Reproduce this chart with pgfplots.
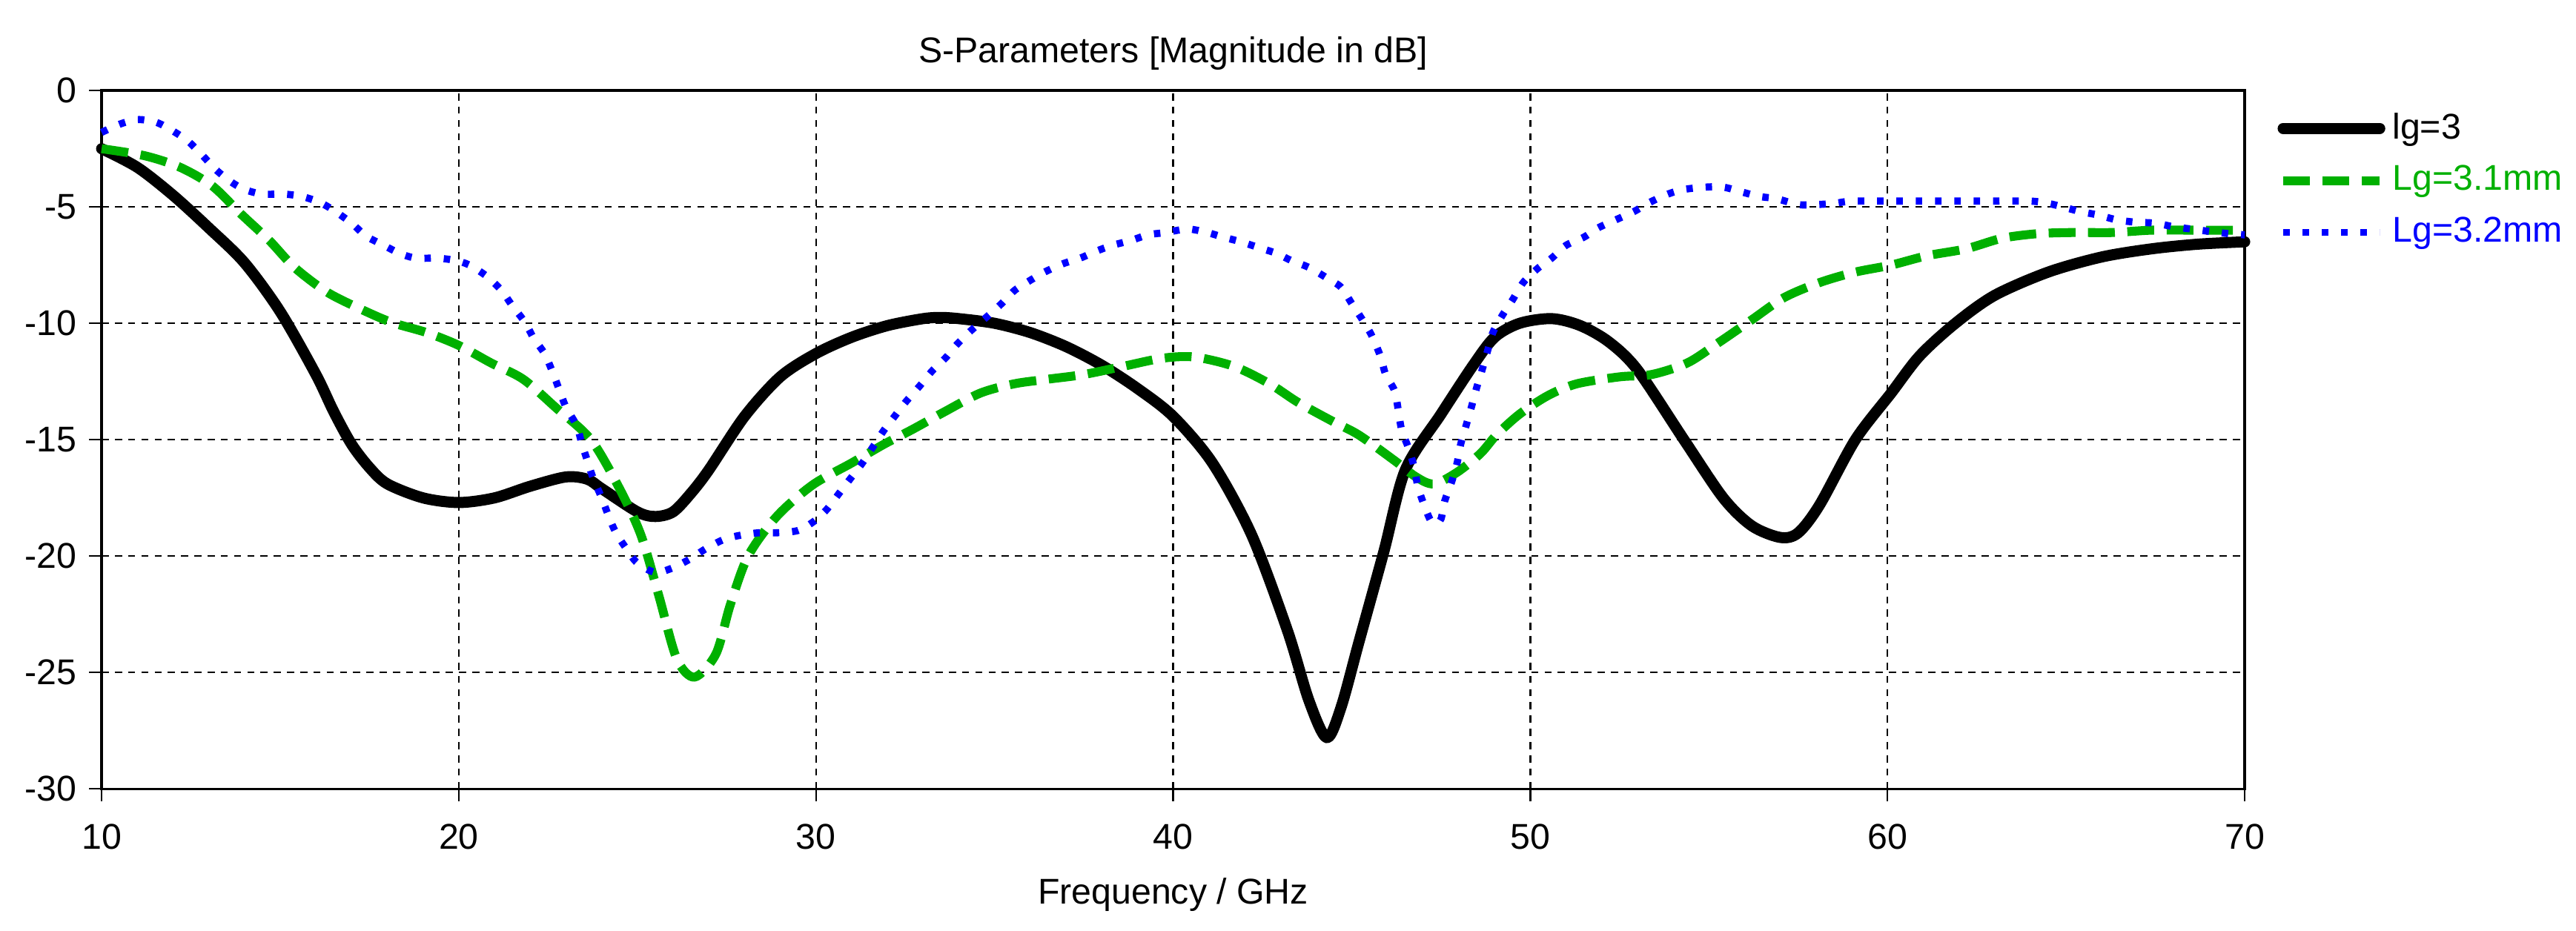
\documentclass[border=0pt]{standalone}
\usepackage{pgfplots}
\pgfplotsset{compat=1.18}
\usepackage{fontspec}
\setmainfont{Liberation Sans}
\definecolor{cstgreen}{RGB}{0,176,0}
\definecolor{cstblue}{RGB}{0,0,255}

\begin{document}
\begin{tikzpicture}
\path[use as bounding box] (-28.4pt,-39.6pt) rectangle (691.6pt,220.5pt);
\begin{axis}[
  scale only axis,
  width=599pt, height=195.2pt,
  xmin=10, xmax=70, ymin=-30, ymax=0,
  xtick={10,20,...,70},
  ytick={-30,-25,...,0},
  font=\fontsize{10}{12}\selectfont,
  /pgf/number format/assume math mode=true,
  tick align=outside,
  tick pos=left,
  major tick length=3.5pt,
  tick style={black, line width=0.5pt},
  axis line style={black, line width=0.7pt},
  grid=major,
  major grid style={black, line width=0.5pt, dash pattern=on 2pt off 1.7pt},
  title={S-Parameters [Magnitude in dB]},
  title style={yshift=-3.8pt},
  xticklabel style={yshift=-2.8pt},
  xlabel={Frequency / GHz},
  xlabel style={yshift=-1.2pt},
  clip=false,
  legend style={at={(1,1)}, anchor=north west, draw=none, fill=none,
    xshift=6pt, yshift=-2pt, row sep=2pt,
    font=\fontsize{10}{12}\selectfont},
  legend cell align=left,
  legend image code/.code={\draw[#1] (0pt,0pt) -- (27pt,0pt);},
]
\addplot[black, line width=3.1pt, line cap=round, line join=round, smooth] coordinates {
(10,-2.5) (11,-3.3) (12,-4.5) (13,-5.9) (14,-7.4) (15,-9.5)
(16,-12.2) (16.5,-13.8) (17,-15.2) (17.5,-16.2) (18,-16.9) (19,-17.5)
(20.0,-17.7) (21.0,-17.5) (22.0,-17.0)
(23.0,-16.6) (23.6,-16.7) (24.0,-17.1) (25.0,-18.1) (25.5,-18.3) (26.0,-18.1)
(26.5,-17.3) (27.0,-16.3) (28.0,-14.0) (29.0,-12.3) (30.0,-11.3) (31.0,-10.6)
(32.0,-10.1) (33.0,-9.8) (33.5,-9.75) (34.0,-9.8) (35.0,-10.0) (36.0,-10.4)
(37.0,-11.0) (38.0,-11.8) (39.0,-12.8) (40.0,-14.0) (41.1,-16.0) (42.2,-19.1)
(43.2,-23.2) (43.8,-26.2) (44.3,-27.8) (44.7,-26.5) (45.2,-23.7) (45.9,-19.8)
(46.5,-16.3) (47.5,-13.9) (48.4,-11.8) (49.0,-10.6) (49.7,-10.0) (50.6,-9.8)
(51.4,-10.1) (52.2,-10.8) (53.0,-12.0) (54.3,-15.0) (55.4,-17.5) (56.2,-18.7)
(57.0,-19.2) (57.5,-19.0) (58.1,-17.8) (59.1,-15.0) (60.1,-13.0) (60.9,-11.4)
(61.9,-10.0) (63.0,-8.8) (64.5,-7.8) (66.0,-7.15) (67.4,-6.8) (68.7,-6.6)
(70.0,-6.5)
};
\addlegendentry{lg=3}
\addplot[cstgreen, line width=2.5pt, dash pattern=on 7.5pt off 3.5pt, line join=round, smooth] coordinates {
(10,-2.5) (11.2,-2.8) (12.2,-3.3) (13.1,-4.1) (13.9,-5.3) (14.7,-6.45)
(15.4,-7.6) (16.3,-8.65) (17.2,-9.35) (18.1,-9.95) (19.1,-10.4) (20.0,-10.95)
(20.9,-11.7) (21.8,-12.4) (22.7,-13.6) (23.7,-15.0) (24.5,-17.1) (25.1,-19.1)
(25.6,-21.7) (26.1,-24.4) (26.6,-25.2) (27.2,-24.2) (27.6,-22.1) (28.1,-20.0)
(28.9,-18.3) (29.9,-16.95) (31.0,-16.0) (31.9,-15.2) (32.7,-14.56) (33.6,-13.8)
(34.6,-13.0) (35.55,-12.6) (36.5,-12.4) (37.5,-12.2) (38.6,-11.85) (39.7,-11.5)
(40.6,-11.45) (41.7,-11.85) (42.7,-12.6) (43.5,-13.4) (44.45,-14.2) (45.2,-14.8)
(46.2,-15.9) (46.8,-16.6) (47.3,-16.9) (47.95,-16.4) (48.6,-15.6) (49.05,-14.8)
(49.7,-13.9) (50.5,-13.1) (51.3,-12.6) (52.5,-12.3) (53.4,-12.2) (54.4,-11.7)
(55.3,-10.8) (56.2,-9.85) (57.1,-8.9) (58.1,-8.25) (59.1,-7.8) (60.1,-7.5)
(61.1,-7.1) (62.2,-6.8) (63.2,-6.35) (64.2,-6.15) (65.2,-6.1) (66.3,-6.1)
(67.4,-6.0) (68.6,-6.0) (70.0,-6.0)
};
\addlegendentry{\textcolor{cstgreen}{Lg=3.1mm}}
\addplot[cstblue, line width=2pt, dash pattern=on 1.8pt off 3.6pt, line join=round, smooth] coordinates {
(10,-1.8) (10.5,-1.45) (11.0,-1.25) (11.5,-1.35) (11.9,-1.65) (12.4,-2.15)
(12.8,-2.75) (13.2,-3.4) (13.6,-3.9) (14.0,-4.25) (14.5,-4.45) (15.1,-4.45)
(15.6,-4.55) (16.1,-4.8) (16.5,-5.15) (17.0,-5.7) (17.4,-6.25) (17.9,-6.65)
(18.35,-7.0) (18.8,-7.2) (19.4,-7.2) (19.9,-7.3) (20.3,-7.5) (20.8,-8.0)
(21.2,-8.6) (21.5,-9.25) (21.85,-9.95) (22.1,-10.65) (22.4,-11.3) (22.6,-12.0)
(22.8,-12.8) (23.0,-13.6) (23.3,-14.4) (23.45,-15.2) (23.6,-15.9) (23.75,-16.6)
(24.0,-17.5) (24.2,-18.3) (24.4,-19.0) (24.7,-19.7) (25.0,-20.3) (25.5,-20.7)
(26.0,-20.5) (26.5,-20.1) (26.9,-19.7) (27.4,-19.3) (27.9,-19.1) (28.4,-19.0)
(28.9,-19.0) (29.5,-18.9) (29.95,-18.5) (30.3,-18.0) (30.65,-17.3) (31.0,-16.6)
(31.3,-16.0) (31.6,-15.3) (31.9,-14.6) (32.2,-14.0) (32.5,-13.4) (32.9,-12.7)
(33.25,-12.05) (33.65,-11.45) (33.95,-10.9) (34.35,-10.3) (34.8,-9.7) (35.2,-9.15)
(35.55,-8.6) (35.95,-8.2) (36.4,-7.8) (36.9,-7.45) (37.4,-7.2) (37.85,-6.9)
(38.3,-6.65) (38.8,-6.45) (39.3,-6.2) (39.8,-6.1) (40.4,-5.95) (40.95,-6.1)
(41.4,-6.3) (41.9,-6.5) (42.4,-6.75) (42.9,-7.0) (43.3,-7.3) (43.8,-7.6)
(44.3,-8.05) (44.7,-8.45) (45.0,-9.15) (45.3,-9.85) (45.55,-10.5) (45.8,-11.4)
(45.95,-12.2) (46.2,-12.9) (46.3,-13.7) (46.4,-14.6) (46.6,-15.4) (46.75,-16.2)
(46.85,-17.0) (47.0,-17.7) (47.2,-18.45) (47.35,-18.6) (47.5,-18.4) (47.6,-17.65)
(47.8,-16.8) (47.95,-16.0) (48.05,-15.2) (48.2,-14.4) (48.35,-13.6) (48.5,-12.75)
(48.65,-12.0) (48.8,-11.2) (48.95,-10.4) (49.2,-9.7) (49.5,-9.0) (49.8,-8.25)
(50.2,-7.65) (50.6,-7.2) (51.0,-6.65) (51.5,-6.3) (51.9,-5.9) (52.4,-5.55)
(52.9,-5.2) (53.35,-4.8) (53.85,-4.45) (54.3,-4.25) (54.9,-4.15) (55.4,-4.15)
(55.9,-4.35) (56.4,-4.55) (56.9,-4.65) (57.5,-4.9) (58.0,-4.9) (58.5,-4.85)
(59.0,-4.75) (60,-4.75) (61,-4.75) (62,-4.75) (63,-4.75) (64.0,-4.75)
(64.5,-4.85) (64.9,-5.0) (65.4,-5.2) (65.9,-5.35) (66.4,-5.55) (66.9,-5.65)
(67.5,-5.7) (68.0,-5.85) (68.5,-5.95) (69.0,-6.05) (69.55,-6.15) (70,-6.2)
};
\addlegendentry{\textcolor{cstblue}{Lg=3.2mm}}
\end{axis}
\end{tikzpicture}
\end{document}
